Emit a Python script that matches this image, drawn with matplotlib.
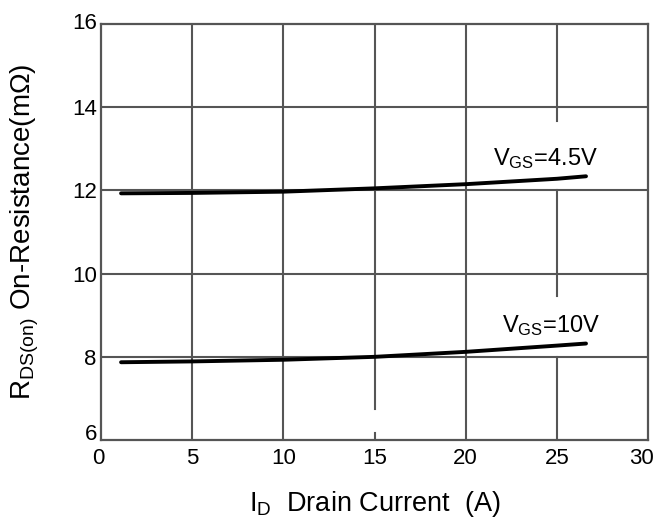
import matplotlib
matplotlib.use("Agg")
import matplotlib.pyplot as plt
import matplotlib.transforms as mtransforms

plt.rcParams['font.family'] = ['Liberation Sans', 'DejaVu Sans']
plt.rcParams['mathtext.fontset'] = 'custom'
plt.rcParams['mathtext.rm'] = 'Liberation Sans'
plt.rcParams['mathtext.it'] = 'Liberation Sans'

# drain current (A) and on-resistance (mOhm)
current = [1.1, 5, 10, 15, 20, 25, 26.6]
rds_45v = [11.93, 11.94, 11.97, 12.05, 12.15, 12.28, 12.34]
rds_10v = [7.87, 7.89, 7.93, 8.00, 8.12, 8.27, 8.32]

xticks = [0, 5, 10, 15, 20, 25, 30]
yticks = [6, 8, 10, 12, 14, 16]

grid_color = '#555555'

fig = plt.figure(figsize=(6.58, 5.22), dpi=100)
ax = fig.add_axes([0.1535, 0.157, 0.8313, 0.797])
ax.set_xlim(0, 30)
ax.set_ylim(6, 16)

# grid, with the breaks the original drawing has
for x in xticks[1:-1]:
    if x == 25:
        segs = [(6, 8), (9.47, 12), (13.66, 16)]
    elif x == 15:
        segs = [(6, 6.17), (6.75, 16)]
    else:
        segs = [(6, 16)]
    for y0, y1 in segs:
        ax.plot([x, x], [y0, y1], color=grid_color, lw=1.5, zorder=1)
for y in yticks[1:-1]:
    ax.axhline(y, color=grid_color, lw=1.5, zorder=1)

ax.plot(current, rds_45v, color='black', lw=2.8, solid_capstyle='round', zorder=3)
ax.plot(current, rds_10v, color='black', lw=2.8, solid_capstyle='round', zorder=3)

ax.text(21.5, 12.6, r'V$_{\mathrm{GS}}$=4.5V', fontsize=17, ha='left', va='baseline')
ax.text(22.0, 8.6, r'V$_{\mathrm{GS}}$=10V', fontsize=17, ha='left', va='baseline')

for s in ax.spines.values():
    s.set_color(grid_color)
    s.set_linewidth(1.6)

ax.set_xticks(xticks)
ax.set_yticks(yticks)
ax.tick_params(length=0, labelsize=16)
ax.tick_params(axis='x', pad=6)
ax.tick_params(axis='y', pad=3)

# small nudges of end labels, as in the original
def nudge(lbl, dx, dy):
    lbl.set_transform(lbl.get_transform() +
                      mtransforms.ScaledTranslation(dx / 100, dy / 100, fig.dpi_scale_trans))

nudge(ax.get_xticklabels()[0], -3, 0)
nudge(ax.get_xticklabels()[-1], -7, 0)
nudge(ax.get_yticklabels()[0], 0, 8)
nudge(ax.get_yticklabels()[-1], 0, 3)

ax.set_xlabel(r'I$_{\mathrm{D}}$  Drain Current  (A)', fontsize=19.5, labelpad=14)
ax.set_ylabel(r'R$_{\mathrm{DS(on)}}$ On-Resistance(m$\Omega$)', fontsize=20, labelpad=22)

fig.savefig('out.png', dpi=100)
